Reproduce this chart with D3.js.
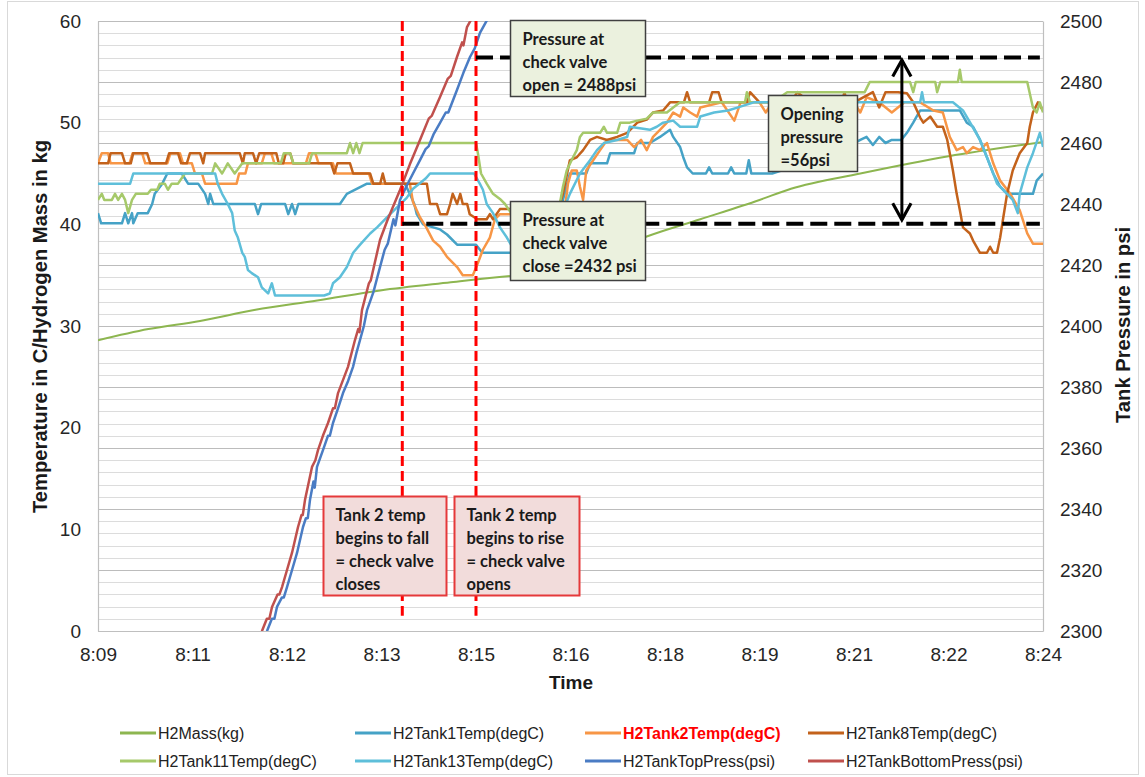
<!doctype html>
<html>
<head>
<script src="https://d3js.org/d3.v7.min.js"></script>
<style>
  body { margin: 0; background: #fff; }
  svg { display: block; font-family: "Liberation Sans", Arial, sans-serif; }
  .note { font-family: Lato, "Open Sans", sans-serif; font-weight: bold; font-size: 16.5px; fill: #1a1a1a; }
  .legend text { font-family: "Liberation Sans Narrow", "Arial Narrow", "Liberation Sans", sans-serif; font-size: 16px; fill: #222; }
</style>
</head>
<body>
<svg id="chart" width="1145" height="777"></svg>
<script>
// time axis: minutes after 8:09
const timeTicks = [0, 1.5, 3, 4.5, 6, 7.5, 9, 10.5, 12, 13.5, 15];
const timeLabels = ["8:09", "8:11", "8:12", "8:13", "8:15", "8:16", "8:18", "8:19", "8:21", "8:22", "8:24"];
const tempTicks = [0, 10, 20, 30, 40, 50, 60];
const pressTicks = [2300, 2320, 2340, 2360, 2380, 2400, 2420, 2440, 2460, 2480, 2500];

// [minute, value] pairs
const h2Mass = [[0,28.6],[0.8,29.7],[1.62,30.5],[2.5,31.6],[3.48,32.5],[4.48,33.5],[5.6,34.3],[6.5,34.9],[7.33,35.3],[8.0,36.9],[8.71,38.8],[9.56,40.5],[10.5,42.4],[11.0,43.5],[12.1,45.0],[13.5,46.7],[15,48.1]];

const tank1 = [[0,41.1],[0.05,40.1],[0.38,40.1],[0.43,41.1],[0.48,40.1],[0.54,41.1],[0.56,40.1],[0.63,41.1],[0.79,41.1],[0.86,42],[0.9,43],[1.02,44],[1.1,45],[1.33,45],[1.43,44],[1.59,44],[1.7,43],[1.75,42],[1.78,43],[1.83,42],[2.49,42],[2.54,41],[2.59,42],[2.97,42],[3.02,41],[3.08,42],[3.13,41],[3.18,42],[3.84,42],[3.95,43],[4.27,44],[4.87,44],[4.95,43],[5.02,42],[5.06,41],[5.16,40],[5.43,39.5],[5.54,39],[5.7,38],[6.0,38],[6.1,37.2],[7.14,37.2],[7.25,40],[7.38,42.4],[7.49,45],[7.75,45],[7.81,46],[8.08,46],[8.13,47],[8.51,47],[8.56,48],[8.76,48],[8.92,48.6],[9.08,49.3],[9.13,48.6],[9.24,47.6],[9.29,46.6],[9.35,45.6],[9.44,45],[9.65,45],[9.7,45.6],[9.75,45],[10.0,45],[10.05,45.6],[10.1,45],[10.29,45],[10.33,46.3],[10.37,45],[10.7,45],[11.2,46],[11.7,47],[12.1,48.3],[12.2,48.6],[12.3,47.8],[12.4,48.6],[12.5,48],[12.6,48.3],[12.75,48.3],[12.84,49],[12.94,50],[13.05,51.2],[13.68,51.2],[13.79,50],[13.89,49.6],[14.0,48.3],[14.11,46.6],[14.21,45],[14.32,43.7],[14.43,43],[14.84,43],[14.9,44.3],[15,45]];

const tank2 = [[0,46],[0.06,47],[0.16,47],[0.2,46],[0.5,46],[0.55,47],[0.7,47],[0.75,46],[1.1,46],[1.15,47],[1.3,47],[1.35,46],[1.49,46],[1.54,45],[1.65,45],[1.7,44],[2.2,44],[2.24,45],[2.34,45],[2.38,46],[2.6,46],[2.65,47],[2.75,47],[2.8,46],[3.3,46],[3.35,47],[3.45,47],[3.5,46],[3.73,46],[3.78,45],[4.3,45],[4.35,44],[4.95,44],[5.0,42.2],[5.11,40.7],[5.21,39.7],[5.32,38.4],[5.43,37.8],[5.54,36.8],[5.7,35.8],[5.79,35],[5.95,35],[6.03,36.2],[6.11,37.5],[6.22,38.7],[6.3,40.5],[6.38,41],[6.6,41],[6.65,40],[7.0,40],[7.14,39.5],[7.22,37.5],[7.3,38],[7.38,40],[7.46,44],[7.52,45.3],[7.6,45.3],[7.65,43.7],[7.7,42.4],[7.75,45.3],[7.86,46.3],[7.97,47.3],[8.08,48.3],[8.4,48.3],[8.51,47.6],[8.62,48.3],[8.71,47.3],[8.81,48.6],[8.92,49.3],[9.03,50],[9.13,51],[9.24,50.6],[9.29,51.5],[9.4,51],[9.51,50.6],[9.56,51.5],[9.9,52],[10.1,50.2],[10.2,52],[10.5,52],[10.6,51],[10.7,52],[11.2,52],[11.3,51],[11.4,52],[12.0,52],[12.1,51],[12.2,52.5],[12.4,52],[12.6,51],[12.8,52],[13.05,52],[13.26,51.2],[13.41,51],[13.52,48.6],[13.63,47.3],[13.73,47.6],[13.79,47],[13.89,47.6],[14.0,47.3],[14.11,48],[14.21,46],[14.32,44.3],[14.48,43],[14.63,41.4],[14.75,39.1],[14.84,38.1],[15,38.1]];

const tank8 = [[0,46],[0.16,46],[0.2,47],[0.38,47],[0.43,46],[0.52,46],[0.56,47],[0.78,47],[0.83,46],[1.08,46],[1.13,47],[1.27,47],[1.32,46],[1.41,46],[1.46,47],[1.62,47],[1.67,46],[1.7,47],[2.25,47],[2.3,46],[2.33,47],[2.46,47],[2.51,46],[2.56,47],[2.83,47],[2.87,46],[2.94,46],[2.98,47],[3.05,47],[3.1,46],[3.7,46],[3.75,45],[3.8,46],[4.0,46],[4.05,45],[4.32,45],[4.37,44],[4.48,44],[4.52,45],[4.56,44],[5.22,44],[5.27,42],[5.38,42],[5.43,41],[5.54,41],[5.59,42],[5.63,43],[5.7,42],[5.75,43],[5.79,42],[5.86,42],[5.9,41],[6.02,40.5],[6.17,40.5],[6.22,41],[6.27,40.5],[6.38,41.5],[6.6,41.5],[6.65,41],[7.14,41],[7.25,40],[7.33,42],[7.38,43],[7.49,46.3],[7.6,46.6],[7.7,47.3],[7.81,48.3],[7.92,48.6],[8.08,48.3],[8.24,48.6],[8.4,49],[8.56,50],[8.71,50.3],[8.81,51],[8.97,51.2],[9.08,52],[9.3,52],[9.35,53],[9.4,52],[9.7,52],[9.75,53],[9.85,53],[9.9,52],[10.3,52],[10.35,53],[10.5,52],[11.0,52],[11.1,53],[11.3,52],[11.8,52],[11.85,53],[11.9,51.5],[12.0,52],[12.3,53],[12.4,51.5],[12.5,53],[12.7,53],[12.84,52.9],[12.94,52],[13.05,50.5],[13.1,50],[13.21,50.6],[13.32,49.6],[13.41,49.6],[13.48,48.3],[13.52,47],[13.57,45.3],[13.63,43],[13.68,41.4],[13.73,39.7],[13.84,39.1],[13.89,38.4],[14.0,37.2],[14.11,37.2],[14.16,37.8],[14.21,37.2],[14.27,37.2],[14.32,38.7],[14.37,40.7],[14.43,43],[14.52,45.3],[14.63,47],[14.75,48],[14.79,49.6],[14.84,51],[14.92,52],[15,51.2]];

const tank11 = [[0,42.4],[0.06,43],[0.1,42.4],[0.22,42.4],[0.27,43],[0.32,42.4],[0.38,43],[0.43,42.4],[0.48,41.1],[0.54,42.4],[0.6,43],[0.79,43],[0.84,43.4],[0.94,43.4],[0.98,44],[1.06,44],[1.11,43.4],[1.17,44],[1.27,44],[1.38,45],[1.81,45],[1.86,46],[1.97,45],[2.06,46],[2.17,45],[2.29,46],[2.9,46],[2.95,47],[3.05,47],[3.1,46],[3.35,46],[3.4,47],[3.95,47],[4.0,48],[4.05,47],[4.1,48],[4.15,47],[4.2,48],[6.0,48],[6.03,47],[6.08,45],[6.17,44],[6.27,43],[6.38,42.5],[6.46,42],[6.57,41],[6.7,39.5],[6.86,38.5],[7.0,38],[7.14,38],[7.25,40],[7.33,42],[7.38,43.7],[7.44,45.3],[7.54,46.6],[7.6,47.3],[7.65,48.6],[7.7,49],[7.97,49],[8.03,49.6],[8.08,49],[8.24,49],[8.29,50],[8.44,50],[8.56,50.2],[8.71,50.4],[8.81,51],[9.03,51],[9.13,51.5],[9.24,52],[10.27,52],[10.3,53],[10.35,52],[10.71,52],[10.94,53],[12.17,53],[12.25,54],[12.89,54],[12.94,53],[12.98,54],[13.29,54],[13.32,53],[13.37,54],[13.65,54],[13.68,55.2],[13.71,54],[14.75,54],[14.84,51.5],[14.9,51],[14.95,52],[15,51]];

const tank13 = [[0,44],[0.51,44],[0.56,45],[1.86,45],[1.9,44],[1.97,43],[2.06,42],[2.13,41.1],[2.17,39.4],[2.22,38.7],[2.29,37.2],[2.33,36.8],[2.38,35.5],[2.44,35.2],[2.54,34.8],[2.6,33.8],[2.7,33.2],[2.76,34.2],[2.81,33],[3.59,33],[3.68,33.2],[3.73,34.2],[3.84,34.8],[3.95,35.8],[4.05,37.2],[4.16,38],[4.32,39.1],[4.43,39.7],[4.59,40.7],[4.75,41.7],[4.9,42.6],[5.0,43.5],[5.1,44],[5.2,44.5],[5.27,45],[5.97,45],[6.06,44],[6.11,43.4],[6.17,42],[6.27,41.1],[6.38,39.7],[6.49,38.7],[6.6,37.5],[7.14,37.5],[7.3,40],[7.49,43],[7.65,45],[7.81,46.3],[7.92,47.3],[8.03,48],[8.24,48.3],[8.4,48.6],[8.44,49.6],[8.76,49.3],[8.87,49.6],[8.97,50],[9.13,50.2],[9.24,49.6],[9.51,49.6],[9.56,50.6],[9.78,51],[10.0,51.2],[10.16,51.5],[10.41,52],[13.05,52],[13.08,53],[13.11,52],[13.57,52],[13.73,51.2],[13.89,49.5],[14.0,48.3],[14.11,46.6],[14.21,45],[14.27,44],[14.43,43],[14.52,42.4],[14.6,41.1],[14.63,43],[14.75,45.6],[14.84,47],[14.95,49],[15,47.6]];

const topPress = [[2.6,2297],[2.683,2300],[2.76,2304],[2.8,2304],[2.841,2307.9],[2.92,2311],[2.95,2311],[3.0,2314.4],[3.08,2320],[3.159,2325.6],[3.254,2334.1],[3.3,2337],[3.33,2337],[3.365,2343],[3.42,2349],[3.44,2347],[3.476,2353.8],[3.571,2359.3],[3.65,2364],[3.68,2364],[3.73,2368.2],[3.81,2373],[3.889,2378],[3.97,2382],[4.048,2386.6],[4.1,2391],[4.159,2395.4],[4.22,2400],[4.27,2405.2],[4.37,2411],[4.476,2419.3],[4.55,2425],[4.6,2427],[4.69,2435],[4.72,2433],[4.794,2441.3],[4.9,2446],[5.0,2450],[5.111,2454.4],[5.2,2458],[5.25,2459],[5.33,2463],[5.429,2466.6],[5.52,2470],[5.56,2470],[5.698,2477.4],[5.8,2483],[5.905,2488.2],[5.98,2491],[6.063,2496.1],[6.175,2500.3],[6.25,2504]];

const bottomPress = [[2.53,2297],[2.603,2300],[2.68,2304],[2.72,2304],[2.762,2307.9],[2.85,2312],[2.88,2312],[2.921,2314.4],[3.0,2320],[3.079,2325.6],[3.175,2334.1],[3.23,2338],[3.25,2338],[3.286,2343],[3.397,2353.8],[3.45,2356],[3.492,2359.3],[3.57,2364],[3.651,2368.2],[3.73,2373],[3.76,2373],[3.81,2378],[3.968,2386.6],[4.079,2395.4],[4.13,2399],[4.15,2398],[4.19,2405.2],[4.3,2414],[4.33,2415],[4.476,2428.2],[4.6,2435],[4.794,2444.6],[4.95,2453],[5.111,2461],[5.25,2468],[5.3,2469],[5.429,2475.1],[5.55,2481],[5.6,2482],[5.698,2488.2],[5.78,2493],[5.8,2492],[5.857,2498],[5.937,2501],[6.0,2504]];

const series = [
  { name: "H2Mass(kg)", data: h2Mass, color: "#8db650", axis: "L", w: 2, smooth: true },
  { name: "H2Tank1Temp(degC)", data: tank1, color: "#45a2c6", axis: "L", w: 2.5 },
  { name: "H2Tank2Temp(degC)", data: tank2, color: "#f79646", axis: "L", w: 2.5 },
  { name: "H2Tank8Temp(degC)", data: tank8, color: "#c3621b", axis: "L", w: 2.5 },
  { name: "H2Tank11Temp(degC)", data: tank11, color: "#a6c96a", axis: "L", w: 2.5 },
  { name: "H2Tank13Temp(degC)", data: tank13, color: "#5ebfda", axis: "L", w: 2.5 },
  { name: "H2TankTopPress(psi)", data: topPress, color: "#4a7cc4", axis: "R", w: 2.5 },
  { name: "H2TankBottomPress(psi)", data: bottomPress, color: "#c0504d", axis: "R", w: 2.5 }
];

const svg = d3.select("#chart");
const pLeft = 98, pRight = 1043, pTop = 21, pBottom = 631;

const x = d3.scaleLinear().domain([0, 15]).range([pLeft, pRight]);
const yL = d3.scaleLinear().domain([0, 60]).range([pBottom, pTop]);
const yR = d3.scaleLinear().domain([2300, 2500]).range([pBottom, pTop]);

// chart area border
svg.append("rect").attr("x", 7.5).attr("y", 1.5).attr("width", 1131).attr("height", 773)
  .attr("fill", "none").attr("stroke", "#d9d9d9");

// gridlines (secondary axis, minor every 4 psi, major every 20)
svg.append("g").selectAll("line").data(d3.range(2300, 2501, 4)).join("line")
  .attr("x1", pLeft).attr("x2", pRight)
  .attr("y1", d => Math.round(yR(d)) + 0.5).attr("y2", d => Math.round(yR(d)) + 0.5)
  .attr("stroke", d => d % 20 === 0 ? "#bcbcbc" : "#dcdcdc").attr("stroke-width", 1);

// axes
const axL = svg.append("g").attr("transform", `translate(${pLeft},0)`)
  .call(d3.axisLeft(yL).tickValues(tempTicks).tickSize(0).tickPadding(17));
const axR = svg.append("g").attr("transform", `translate(${pRight},0)`)
  .call(d3.axisRight(yR).tickValues(pressTicks).tickSize(0).tickPadding(17).tickFormat(d3.format("d")));
const axB = svg.append("g").attr("transform", `translate(0,${pBottom})`)
  .call(d3.axisBottom(x).tickValues(timeTicks).tickSize(0).tickPadding(17)
    .tickFormat((d, i) => timeLabels[i]));
[axL, axR, axB].forEach(a => {
  a.select(".domain").attr("stroke", "#bfbfbf").attr("stroke-width", 1.2);
  a.selectAll("text").attr("font-size", 19).attr("fill", "#262626")
    .attr("font-family", "'Liberation Sans', Arial, sans-serif");
});

// axis titles
svg.append("text").attr("transform", "translate(47,326.5) rotate(-90)")
  .attr("text-anchor", "middle").attr("font-size", 20).attr("font-weight", "bold").attr("fill", "#1a1a1a")
  .attr("textLength", 373).attr("lengthAdjust", "spacingAndGlyphs")
  .text("Temperature in C/Hydrogen Mass in kg");
svg.append("text").attr("transform", "translate(1130,325) rotate(-90)")
  .attr("text-anchor", "middle").attr("font-size", 20).attr("font-weight", "bold").attr("fill", "#1a1a1a")
  .attr("textLength", 196).attr("lengthAdjust", "spacingAndGlyphs")
  .text("Tank Pressure in psi");
svg.append("text").attr("x", 571).attr("y", 689)
  .attr("text-anchor", "middle").attr("font-size", 19).attr("font-weight", "bold").attr("fill", "#1a1a1a")
  .text("Time");

// data lines
svg.append("clipPath").attr("id", "plot").append("rect")
  .attr("x", pLeft).attr("y", pTop).attr("width", pRight - pLeft).attr("height", pBottom - pTop);
const lines = svg.append("g").attr("clip-path", "url(#plot)");
series.forEach(s => {
  const ys = s.axis === "L" ? yL : yR;
  const gen = d3.line().x(d => x(d[0])).y(d => ys(d[1]));
  if (s.smooth) gen.curve(d3.curveMonotoneX);
  lines.append("path").datum(s.data)
    .attr("fill", "none").attr("stroke", s.color).attr("stroke-width", s.w)
    .attr("stroke-linejoin", "round")
    .attr("d", gen);
});

// reference markers
const closeT = 4.83, openT = 6.0;
[closeT, openT].forEach(t => {
  svg.append("line").attr("x1", x(t)).attr("x2", x(t)).attr("y1", pTop).attr("y2", yL(1.5))
    .attr("stroke", "#ff0000").attr("stroke-width", 3).attr("stroke-dasharray", "10,5");
});
svg.append("line").attr("x1", x(openT)).attr("x2", x(14.95)).attr("y1", yR(2488)).attr("y2", yR(2488))
  .attr("stroke", "#000").attr("stroke-width", 4).attr("stroke-dasharray", "17,7");
svg.append("line").attr("x1", x(closeT)).attr("x2", x(14.95)).attr("y1", yR(2433.5)).attr("y2", yR(2433.5))
  .attr("stroke", "#000").attr("stroke-width", 4).attr("stroke-dasharray", "17,7");

// double arrow
const ax = x(12.76);
svg.append("defs").html(
  '<marker id="ah" viewBox="0 0 12 12" refX="10.5" refY="6" markerUnits="userSpaceOnUse" markerWidth="22" markerHeight="22" orient="auto-start-reverse">' +
  '<path d="M1.5,1 L10.5,6 L1.5,11" fill="none" stroke="#000" stroke-width="1.7" stroke-linejoin="miter"/></marker>');
svg.append("line").attr("x1", ax).attr("x2", ax).attr("y1", yR(2487.2)).attr("y2", yR(2434.8))
  .attr("stroke", "#000").attr("stroke-width", 3)
  .attr("marker-start", "url(#ah)").attr("marker-end", "url(#ah)");

// annotation boxes
function note(bx, by, bw, bh, textLines, fill, stroke, sw) {
  svg.append("rect").attr("x", bx).attr("y", by).attr("width", bw).attr("height", bh)
    .attr("fill", fill).attr("stroke", stroke).attr("stroke-width", sw);
  const t = svg.append("text").attr("class", "note");
  textLines.forEach((l, i) => t.append("tspan").attr("x", bx + 12).attr("y", by + 24 + i * 23).text(l));
}
note(510.5, 20.5, 135, 76, ["Pressure at", "check valve", "open = 2488psi"], "#ebf1de", "#404040", 1.5);
note(510.5, 201.5, 135, 79, ["Pressure at", "check valve", "close =2432 psi"], "#ebf1de", "#404040", 1.5);
note(768.5, 95.5, 89, 76, ["Opening", "pressure", "=56psi"], "#ebf1de", "#404040", 1.5);
note(323.5, 496.5, 123, 99, ["Tank 2 temp", "begins to fall", "= check valve", "closes"], "#f2dcdb", "#e5393a", 2);
note(454.5, 496.5, 125, 99, ["Tank 2 temp", "begins to rise", "= check valve", "opens"], "#f2dcdb", "#e5393a", 2);

// legend
const legX = [120, 355, 585, 808], legY = [733, 761];
const leg = svg.append("g").attr("class", "legend");
series.forEach((s, i) => {
  const lx = legX[i % 4], ly = legY[Math.floor(i / 4)];
  leg.append("line").attr("x1", lx).attr("x2", lx + 36).attr("y1", ly).attr("y2", ly)
    .attr("stroke", s.color).attr("stroke-width", 3);
  const t = leg.append("text").attr("x", lx + 38).attr("y", ly + 6).text(s.name);
  if (s.name === "H2Tank2Temp(degC)") t.style("fill", "#ff0000").style("font-weight", "bold");
});
</script>
</body>
</html>
